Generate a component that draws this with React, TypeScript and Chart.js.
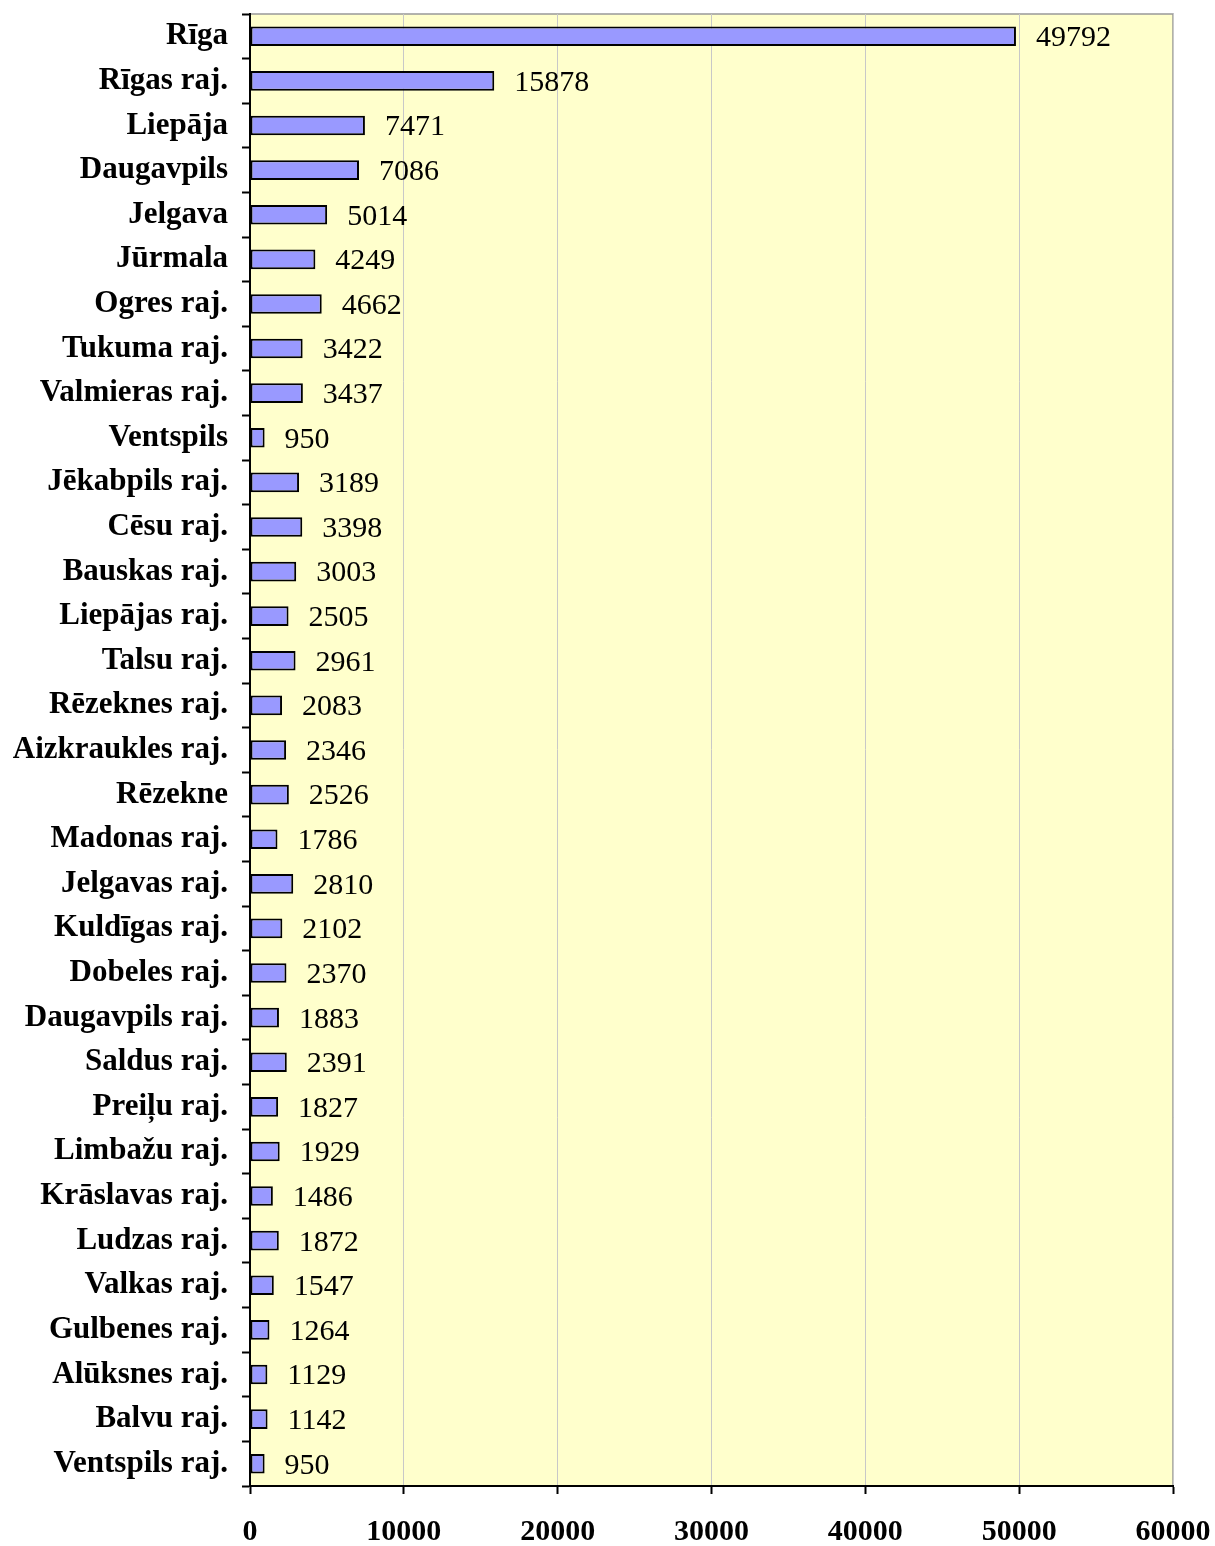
import React, { useEffect, useRef } from "react";
import { Chart, registerables } from "chart.js";

Chart.register(...registerables);

const categories = [
  "Rīga", "Rīgas raj.", "Liepāja", "Daugavpils", "Jelgava", "Jūrmala", "Ogres raj.",
  "Tukuma raj.", "Valmieras raj.", "Ventspils", "Jēkabpils raj.", "Cēsu raj.",
  "Bauskas raj.", "Liepājas raj.", "Talsu raj.", "Rēzeknes raj.", "Aizkraukles raj.",
  "Rēzekne", "Madonas raj.", "Jelgavas raj.", "Kuldīgas raj.", "Dobeles raj.",
  "Daugavpils raj.", "Saldus raj.", "Preiļu raj.", "Limbažu raj.", "Krāslavas raj.",
  "Ludzas raj.", "Valkas raj.", "Gulbenes raj.", "Alūksnes raj.", "Balvu raj.",
  "Ventspils raj.",
];

const values = [
  49792, 15878, 7471, 7086, 5014, 4249, 4662, 3422, 3437, 950, 3189, 3398, 3003,
  2505, 2961, 2083, 2346, 2526, 1786, 2810, 2102, 2370, 1883, 2391, 1827, 1929,
  1486, 1872, 1547, 1264, 1129, 1142, 950,
];

const xTicks = [0, 10000, 20000, 30000, 40000, 50000, 60000];

const SERIF = '"Liberation Serif", "Times New Roman", serif';

export default function App() {
  const ref = useRef<HTMLCanvasElement | null>(null);

  useEffect(() => {
    document.body.style.margin = "0";
    const canvas = ref.current;
    if (!canvas) return;

    const bgPlugin = {
      id: "plotBg",
      beforeDraw(chart: any) {
        const { ctx, chartArea } = chart;
        ctx.save();
        ctx.fillStyle = "#FFFFCC";
        ctx.fillRect(chartArea.left, chartArea.top, chartArea.right - chartArea.left, chartArea.bottom - chartArea.top);
        ctx.strokeStyle = "#999999";
        ctx.lineWidth = 1.5;
        ctx.strokeRect(chartArea.left, chartArea.top, chartArea.right - chartArea.left, chartArea.bottom - chartArea.top);
        ctx.restore();
      },
    };

    const labelPlugin = {
      id: "valueLabels",
      afterDatasetsDraw(chart: any) {
        const { ctx } = chart;
        const meta = chart.getDatasetMeta(0);
        ctx.save();
        ctx.font = `30px ${SERIF}`;
        ctx.fillStyle = "#000";
        ctx.textAlign = "left";
        ctx.textBaseline = "middle";
        meta.data.forEach((bar: any, i: number) => {
          ctx.fillText(String(values[i]), bar.x + 20, bar.y + 2);
        });
        ctx.restore();
      },
    };

    const chart = new Chart(canvas, {
      type: "bar",
      data: {
        labels: categories,
        datasets: [
          {
            data: values,
            backgroundColor: "#9999FF",
            borderColor: "#000000",
            borderWidth: 2,
            borderSkipped: false,
            categoryPercentage: 1,
            barPercentage: 0.44,
          },
        ],
      },
      options: {
        indexAxis: "y",
        animation: false,
        responsive: false,
        maintainAspectRatio: false,
        layout: { padding: { top: 14, right: 42, left: 0, bottom: 0 } },
        plugins: { legend: { display: false }, tooltip: { enabled: false } },
        scales: {
          x: {
            type: "linear",
            min: 0,
            max: 60000,
            afterBuildTicks(scale: any) {
              scale.ticks = xTicks.map((v) => ({ value: v }));
            },
            afterFit(scale: any) {
              scale.height = 60;
              scale.paddingLeft = 0;
              scale.paddingRight = 0;
            },
            grid: {
              color: "#C8C8C8",
              lineWidth: 1,
              tickColor: "#000",
              tickLength: 8,
              tickWidth: 2,
            },
            border: { color: "#000", width: 2 },
            ticks: {
              color: "#000",
              padding: 20,
              font: { family: SERIF, size: 30, weight: "bold" },
              callback: (v: any) => String(v),
            },
          },
          y: {
            type: "category",
            offset: true,
            afterFit(scale: any) {
              scale.width = 250;
              scale.paddingTop = 0;
              scale.paddingBottom = 0;
            },
            grid: {
              offset: true,
              drawOnChartArea: false,
              drawTicks: true,
              tickLength: 8,
              tickWidth: 2,
              tickColor: "#000",
            },
            border: { color: "#000", width: 2 },
            ticks: {
              color: "#000",
              padding: 14,
              autoSkip: false,
              font: { family: SERIF, size: 31, weight: "bold" },
            },
          },
        },
      },
      plugins: [bgPlugin, labelPlugin],
    } as any);

    return () => chart.destroy();
  }, []);

  return (
    <div style={{ width: 1215, height: 1546, background: "#fff" }}>
      <canvas ref={ref} width={1215} height={1546} style={{ display: "block" }} />
    </div>
  );
}
